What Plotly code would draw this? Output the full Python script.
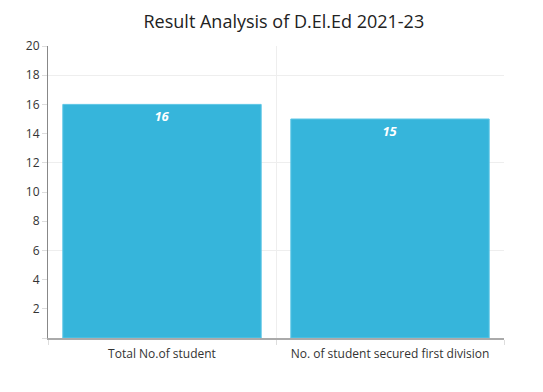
import plotly.graph_objects as go

categories = ["Total No.of student", "No. of student secured first division"]
values = [16, 15]
title = "Result Analysis of D.El.Ed 2021-23"
y_ticks = [0, 2, 4, 6, 8, 10, 12, 14, 16, 18, 20]
y_labels = [""] + [str(t) for t in y_ticks[1:]]

fig = go.Figure(go.Bar(
    x=categories, y=values,
    text=[str(v) for v in values],
    textposition="inside", insidetextanchor="end",
    textfont=dict(family="Open Sans", size=13, color="white", weight="bold", style="italic"),
    marker=dict(color="#36b5db", line=dict(color="#5cc6e6", width=1)),
    width=0.87,
))

fig.update_layout(
    width=543, height=392,
    margin=dict(l=40, r=47, t=38, b=62),
    paper_bgcolor="white", plot_bgcolor="white",
    font=dict(family="Open Sans", size=12, color="#333"),
    title=dict(text=title, x=0.508, xanchor="center", y=0.964, yanchor="middle",
               yref="container", automargin=False,
               font=dict(family="Open Sans", size=18, color="#222")),
    showlegend=False,
    xaxis=dict(
        type="category", range=[-0.5, 1.5], automargin=False,
        tickson="boundaries", ticks="outside", ticklen=5, tickcolor="#dddddd",
        ticklabelstandoff=4,
        showgrid=True, gridcolor="#eeeeee",
        showline=True, linecolor="#aaaaaa", linewidth=2,
        tickfont=dict(size=12, color="#333"),
    ),
    yaxis=dict(
        range=[0, 20], tickmode="array", tickvals=y_ticks, ticktext=y_labels,
        automargin=False,
        ticks="outside", ticklen=5, tickcolor="#dddddd",
        showgrid=False, zeroline=False,
        showline=True, linecolor="#888888", linewidth=1,
        tickfont=dict(size=12, color="#333"),
        minor=dict(tickmode="array", tickvals=[6, 12, 18], showgrid=True,
                   gridcolor="#eeeeee", ticklen=0),
    ),
)

fig.write_html("out.html")
